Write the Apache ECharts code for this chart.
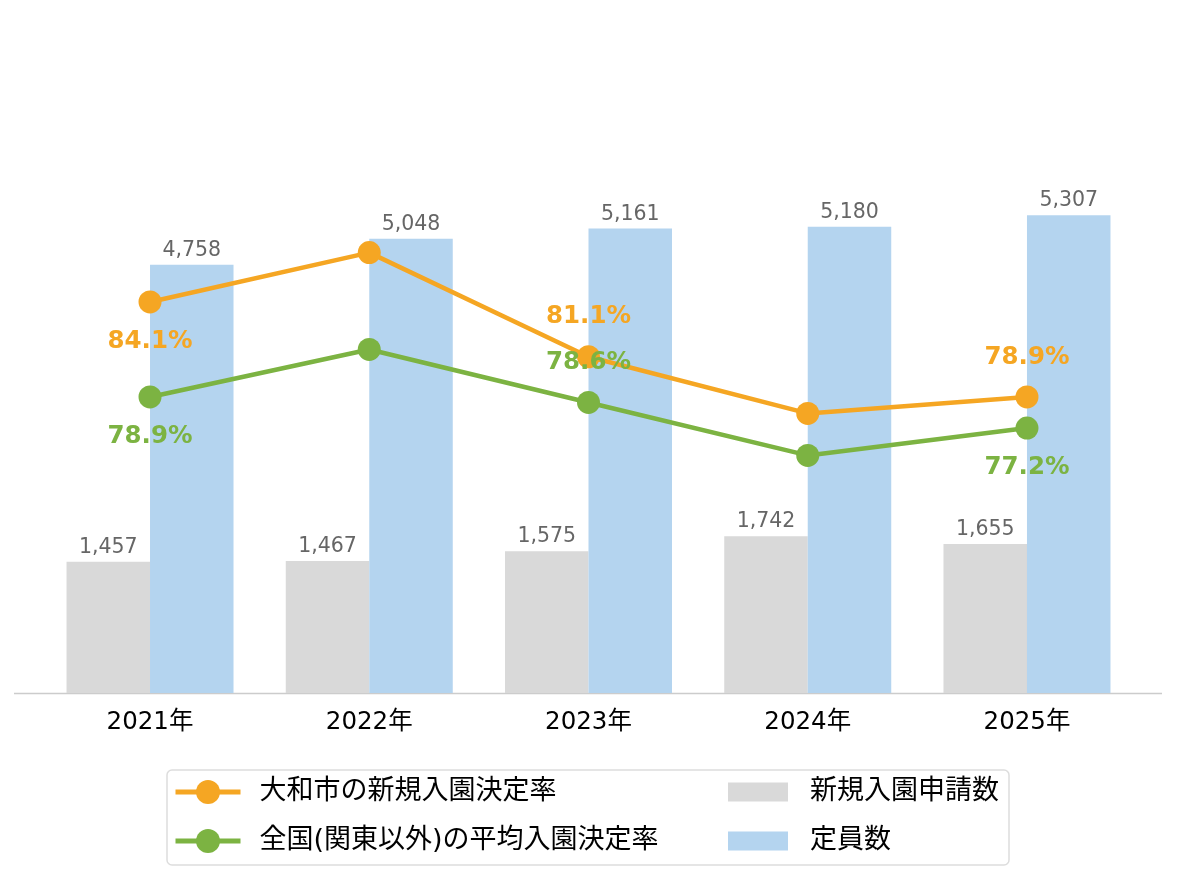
<!DOCTYPE html>
<html>
<head>
<meta charset="utf-8">
<script src="https://cdn.jsdelivr.net/npm/echarts@6/dist/echarts.min.js"></script>
<style>
html,body{margin:0;padding:0;background:#fff;}
#chart{width:1177px;height:881px;}
</style>
</head>
<body>
<div id="chart"></div>
<script>
const categories = ['2021年', '2022年', '2023年', '2024年', '2025年'];
const applications = [1457, 1467, 1575, 1742, 1655];
const capacity = [4758, 5048, 5161, 5180, 5307];
const yamatoRate = [84.1, 86.8, 81.1, 78.0, 78.9];
const nationalRate = [78.9, 81.5, 78.6, 75.7, 77.2];
const seriesNames = ['大和市の新規入園決定率', '全国(関東以外)の平均入園決定率', '新規入園申請数', '定員数'];

const FONT = '"DejaVu Sans", "Noto Sans CJK JP", sans-serif';
const ORANGE = '#F5A623', GREEN = '#7CB342', GRAY = '#D9D9D9', BLUE = '#B4D4EF';

// which points carry a label, and where
const yamatoLabels = {0: 'bottom', 2: 'top', 4: 'top'};
const nationalLabels = {0: 'bottom', 2: 'top', 4: 'bottom'};

function lineData(vals, spec, color) {
  return vals.map((v, i) => {
    const pos = spec[i];
    if (!pos) return {value: v, label: {show: false}};
    return {
      value: v,
      label: {
        show: true, position: pos, distance: 16,
        color: color, fontWeight: 'bold', fontSize: 24.5, fontFamily: FONT,
        formatter: p => p.value.toFixed(1) + '%'
      }
    };
  });
}

const chart = echarts.init(document.getElementById('chart'), null, {renderer: 'canvas'});
const barLabel = {
  show: true, position: 'top', distance: 4, color: '#666666', fontSize: 20.5, fontFamily: FONT,
  formatter: p => p.value.toLocaleString('en-US')
};

chart.setOption({
  backgroundColor: '#ffffff',
  animation: false,
  textStyle: {fontFamily: FONT},
  grid: {left: 40.4, right: 40.4, top: 153, bottom: 188},
  xAxis: {
    type: 'category', data: categories,
    axisLine: {show: false}, axisTick: {show: false},
    axisLabel: {color: '#000', fontSize: 24.5, fontFamily: FONT, margin: 17}
  },
  yAxis: [
    {type: 'value', min: 0, max: 6000, show: false},
    {type: 'value', min: 62.7, max: 92.25, show: false}
  ],
  legend: [
    {
      data: [seriesNames[0], seriesNames[1]],
      orient: 'vertical', left: 168, top: 772,
      itemWidth: 65, itemHeight: 30, itemGap: 19,
      lineStyle: {width: 5},
      textStyle: {fontSize: 27, color: '#000', fontFamily: FONT, lineHeight: 30, padding: [0, 0, 0, 14]}
    },
    {
      data: [seriesNames[2], seriesNames[3]],
      orient: 'vertical', left: 723, top: 772, icon: 'rect',
      itemWidth: 60, itemHeight: 19, itemGap: 19,
      textStyle: {fontSize: 27, color: '#000', fontFamily: FONT, lineHeight: 30, padding: [0, 0, 0, 17]}
    }
  ],
  graphic: [
    {type: 'line', shape: {x1: 14, y1: 693.5, x2: 1162, y2: 693.5}, style: {stroke: '#cccccc', lineWidth: 1.5}, z: 0},
    {type: 'rect', shape: {x: 167, y: 770, width: 842, height: 95, r: 5}, style: {fill: 'none', stroke: '#dddddd', lineWidth: 1.5}}
  ],
  series: [
    {
      name: seriesNames[2], type: 'bar', data: applications, yAxisIndex: 0,
      barWidth: 83.5, barGap: '0%', itemStyle: {color: GRAY}, label: barLabel, z: 1
    },
    {
      name: seriesNames[3], type: 'bar', data: capacity, yAxisIndex: 0,
      barWidth: 83.5, barGap: '0%', itemStyle: {color: BLUE}, label: barLabel, z: 1
    },
    {
      name: seriesNames[0], type: 'line', yAxisIndex: 1,
      data: lineData(yamatoRate, yamatoLabels, ORANGE),
      symbol: 'circle', symbolSize: 23, lineStyle: {color: ORANGE, width: 4.5},
      itemStyle: {color: ORANGE}, z: 3
    },
    {
      name: seriesNames[1], type: 'line', yAxisIndex: 1,
      data: lineData(nationalRate, nationalLabels, GREEN),
      symbol: 'circle', symbolSize: 23, lineStyle: {color: GREEN, width: 4.5},
      itemStyle: {color: GREEN}, z: 3
    }
  ]
});
</script>
</body>
</html>
